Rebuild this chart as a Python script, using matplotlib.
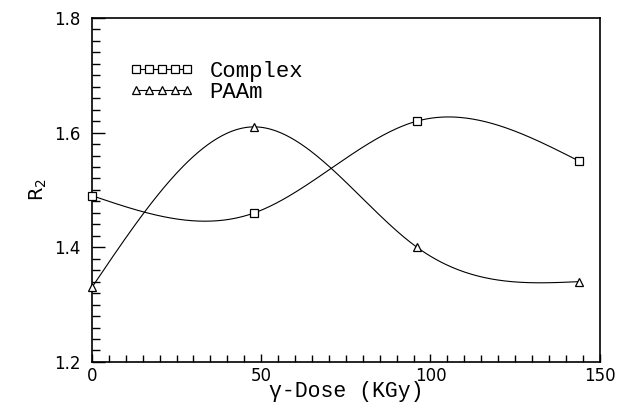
import numpy as np
from matplotlib import pyplot as plt
from matplotlib.ticker import MultipleLocator

dose = [0, 48, 96, 144]
complex_r2 = [1.49, 1.46, 1.62, 1.55]
paam_r2 = [1.33, 1.61, 1.40, 1.34]


def natural_spline(x, y, n=300):
    # plain natural cubic spline, only used to draw the smooth curve
    x = np.asarray(x, float)
    y = np.asarray(y, float)
    h = np.diff(x)
    k = len(x)
    A = np.zeros((k, k))
    b = np.zeros(k)
    A[0, 0] = A[-1, -1] = 1
    for i in range(1, k - 1):
        A[i, i - 1] = h[i - 1]
        A[i, i] = 2 * (h[i - 1] + h[i])
        A[i, i + 1] = h[i]
        b[i] = 6 * ((y[i + 1] - y[i]) / h[i] - (y[i] - y[i - 1]) / h[i - 1])
    M = np.linalg.solve(A, b)
    xs = np.linspace(x[0], x[-1], n)
    idx = np.clip(np.searchsorted(x, xs) - 1, 0, k - 2)
    x0, x1 = x[idx], x[idx + 1]
    hh = x1 - x0
    a = (x1 - xs) / hh
    c = (xs - x0) / hh
    ys = (a * y[idx] + c * y[idx + 1]
          + ((a ** 3 - a) * M[idx] + (c ** 3 - c) * M[idx + 1]) * hh ** 2 / 6)
    return xs, ys


fig = plt.figure(figsize=(6.17, 4.08), dpi=100)
ax = fig.add_axes([0.149, 0.113, 0.823, 0.843])

for y in (complex_r2, paam_r2):
    xs, ys = natural_spline(dose, y)
    ax.plot(xs, ys, color='black', lw=0.8)

ax.plot(dose, complex_r2, 's', color='black', mfc='white', ms=6, mew=0.9,
        ls='none', clip_on=False, zorder=3)
ax.plot(dose, paam_r2, '^', color='black', mfc='white', ms=6, mew=0.9,
        ls='none', clip_on=False, zorder=3)

# legend handles drawn with a line under the markers
h1, = ax.plot([], [], 's-', color='black', mfc='white', ms=6, mew=0.9, lw=0.8)
h2, = ax.plot([], [], '^-', color='black', mfc='white', ms=6, mew=0.9, lw=0.8)
ax.legend([h1, h2], ['Complex', 'PAAm'], loc='upper left',
          bbox_to_anchor=(0.074, 0.875), numpoints=5, frameon=False,
          borderpad=0, borderaxespad=0,
          handlelength=2.9, handletextpad=0.7, labelspacing=0.0,
          prop={'family': 'Liberation Mono', 'size': 16})

ax.set_xlim(0, 150)
ax.set_ylim(1.2, 1.8)
ax.xaxis.set_major_locator(MultipleLocator(50))
ax.xaxis.set_minor_locator(MultipleLocator(5))
ax.yaxis.set_major_locator(MultipleLocator(0.2))
ax.yaxis.set_minor_locator(MultipleLocator(0.02))
ax.yaxis.set_major_formatter(plt.FormatStrFormatter('%.1f'))
ax.tick_params(which='both', direction='in', top=False, right=False,
               labelsize=12, width=1)
ax.tick_params(axis='y', which='major', length=9, pad=8)
ax.tick_params(axis='y', which='minor', length=6)
ax.tick_params(axis='x', which='major', length=6, pad=4)
ax.tick_params(axis='x', which='minor', length=5)
for s in ax.spines.values():
    s.set_linewidth(1.2)

ax.set_xlabel('γ-Dose (KGy)', family='Liberation Mono', fontsize=15.5,
              labelpad=-3)
ax.set_ylabel('R$_2$', fontsize=14, labelpad=4)

plt.savefig('out.png', dpi=100)
